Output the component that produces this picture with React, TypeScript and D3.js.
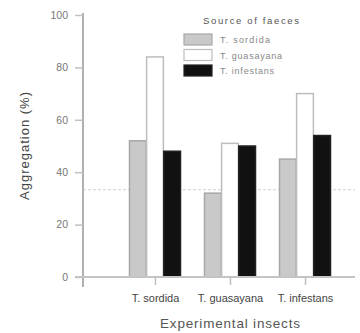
import { useRef, useEffect } from 'react';
import * as d3 from 'd3';

const insects = ['T. sordida', 'T. guasayana', 'T. infestans'];
const sources = ['T. sordida', 'T. guasayana', 'T. infestans'];
// aggregation (%) per experimental insect, one value per faeces source
const sordidaFaeces = [52, 32, 45];
const guasayanaFaeces = [84, 51, 70];
const infestansFaeces = [48, 50, 54];
const yTicks = [0, 20, 40, 60, 80, 100];
const chanceLevel = 33.3;

const fills = ['#c9c9c9', '#ffffff', '#111111'];
const strokes = ['#a8a8a8', '#bdbdbd', '#222222'];
const font = 'Arial, Liberation Sans, sans-serif';

export default function App() {
  const svgRef = useRef(null);

  useEffect(() => {
    const width = 360;
    const height = 333;
    const margin = { top: 15, right: 5, bottom: 56, left: 83 };

    const svg = d3.select(svgRef.current);
    svg.selectAll('*').remove();

    const series = [sordidaFaeces, guasayanaFaeces, infestansFaeces];

    // group centres sit at 155, 230, 305
    const x = d3.scalePoint()
      .domain(insects)
      .range([155, 305]);

    const inner = d3.scaleBand()
      .domain(sources)
      .range([-25.5, 25.5])
      .paddingInner(0.02);

    const y = d3.scaleLinear()
      .domain([0, 100])
      .range([height - margin.bottom, margin.top]);

    // chance line
    svg.append('line')
      .attr('x1', margin.left)
      .attr('x2', width - margin.right)
      .attr('y1', y(chanceLevel))
      .attr('y2', y(chanceLevel))
      .attr('stroke', '#d0d0d0')
      .attr('stroke-dasharray', '3,2');

    // bars
    sources.forEach((s, si) => {
      svg.append('g')
        .selectAll('rect')
        .data(insects)
        .join('rect')
        .attr('x', (d) => x(d) + inner(s))
        .attr('width', inner.bandwidth())
        .attr('y', (d, i) => y(series[si][i]))
        .attr('height', (d, i) => y(0) - y(series[si][i]))
        .attr('fill', fills[si])
        .attr('stroke', strokes[si])
        .attr('stroke-width', 1.5);
    });

    // Y axis
    const yAxis = svg.append('g')
      .attr('transform', `translate(${margin.left},0)`)
      .call(d3.axisLeft(y).tickValues(yTicks).tickSize(8).tickPadding(7));
    yAxis.select('.domain').attr('stroke', '#b0b0b0').attr('stroke-width', 2)
      .attr('d', `M0,${margin.top - 2}V${y(0) + 10}`);
    yAxis.selectAll('.tick line').attr('stroke', '#c0c0c0').attr('stroke-width', 1.5);
    yAxis.selectAll('.tick text')
      .attr('fill', '#777')
      .style('font-family', font)
      .style('font-size', '10.5px');

    // X axis
    const xAxis = svg.append('g')
      .attr('transform', `translate(0,${y(0)})`)
      .call(d3.axisBottom(x).tickSize(8).tickPadding(9));
    xAxis.select('.domain').attr('stroke', '#c4c4c4').attr('stroke-width', 2)
      .attr('d', `M${margin.left - 8},0H${width - margin.right}`);
    xAxis.selectAll('.tick line').attr('stroke', '#c0c0c0').attr('stroke-width', 1.5);
    xAxis.selectAll('.tick text')
      .attr('fill', '#444')
      .style('font-family', font)
      .style('font-size', '11px');

    // axis titles
    svg.append('text')
      .attr('transform', 'rotate(-90)')
      .attr('x', -146)
      .attr('y', 29)
      .attr('text-anchor', 'middle')
      .attr('fill', '#444')
      .attr('textLength', 108)
      .style('font-family', font)
      .style('font-size', '13px')
      .text('Aggregation (%)');

    svg.append('text')
      .attr('x', 230)
      .attr('y', height - 5)
      .attr('text-anchor', 'middle')
      .attr('fill', '#555')
      .attr('textLength', 140)
      .style('font-family', font)
      .style('font-size', '13.5px')
      .text('Experimental insects');

    // legend
    const legend = svg.append('g').attr('transform', 'translate(184,0)');
    legend.append('text')
      .attr('x', 19)
      .attr('y', 24)
      .attr('fill', '#555')
      .attr('textLength', 96)
      .style('font-family', font)
      .style('font-size', '9.5px')
      .text('Source of faeces');
    const labelWidths = [50, 62, 54];
    sources.forEach((s, i) => {
      const row = legend.append('g').attr('transform', `translate(0,${34 + i * 15.5})`);
      row.append('rect')
        .attr('width', 28)
        .attr('height', 11)
        .attr('fill', fills[i])
        .attr('stroke', strokes[i])
        .attr('stroke-width', 1.2);
      row.append('text')
        .attr('x', 36)
        .attr('y', 9)
        .attr('fill', '#888')
        .attr('textLength', labelWidths[i])
        .style('font-family', font)
        .style('font-size', '9px')
        .text(s);
    });
  }, []);

  return (
    <svg
      ref={svgRef}
      width={360}
      height={333}
      style={{ position: 'absolute', left: 0, top: 0, background: '#fff' }}
    />
  );
}
